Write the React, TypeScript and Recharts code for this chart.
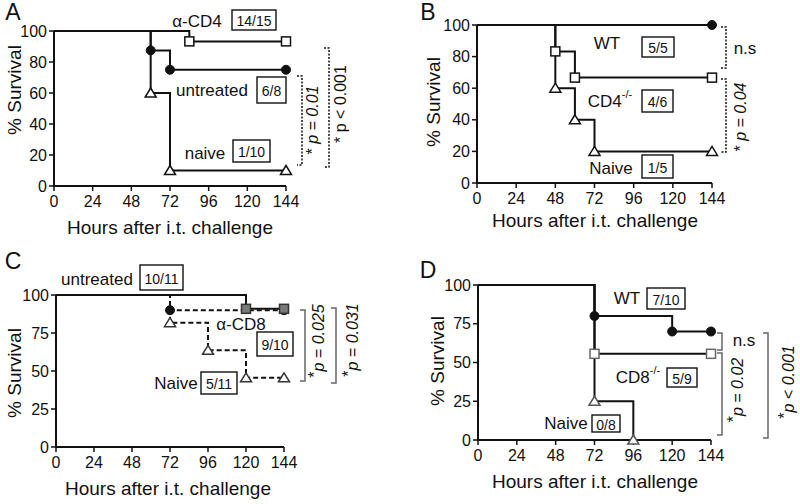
import React from "react";
import { LineChart, Line, XAxis, YAxis } from "recharts";

const FONT = '"Liberation Sans", Arial, Helvetica, sans-serif';
const INK = "#111";

// x ticks (hours) and y ticks (% survival)
const hourTicks = [0, 24, 48, 72, 96, 120, 144];
const survTicks20 = [0, 20, 40, 60, 80, 100];
const survTicks25 = [0, 25, 50, 75, 100];

// Panel A
const aCd4Hours = [0, 84, 144];
const aCd4Surv = [100, 93.3, 93.3];
const aUntreatedHours = [0, 60, 72, 144];
const aUntreatedSurv = [100, 87.5, 75, 75];
const aNaiveHours = [0, 60, 72, 144];
const aNaiveSurv = [100, 60, 10, 10];

// Panel B
const bWtHours = [0, 144];
const bWtSurv = [100, 100];
const bCd4koHours = [0, 48, 60, 144];
const bCd4koSurv = [100, 83.3, 66.7, 66.7];
const bNaiveHours = [0, 48, 60, 72, 144];
const bNaiveSurv = [100, 60, 40, 20, 20];

// Panel C
const cUntreatedHours = [0, 120, 144];
const cUntreatedSurv = [100, 90.9, 90.9];
const cCd8Hours = [0, 72, 144];
const cCd8Surv = [100, 90, 90];
const cNaiveHours = [0, 72, 96, 120, 144];
const cNaiveSurv = [100, 81.8, 63.6, 45.5, 45.5];

// Panel D
const dWtHours = [0, 72, 120, 144];
const dWtSurv = [100, 80, 70, 70];
const dCd8koHours = [0, 72, 144];
const dCd8koSurv = [100, 55.6, 55.6];
const dNaiveHours = [0, 72, 96];
const dNaiveSurv = [100, 25, 0];

const zip = (h: number[], s: number[]) => h.map((t, i) => ({ t, v: s[i] }));

type Shape = "square" | "circle" | "triangle";

const makeDot = (shape: Shape, fill: string, stroke: string) => (props: any) => {
  const { cx, cy, index } = props;
  if (index === 0 || cx == null || cy == null) return <g key={`e${index}`} />;
  if (shape === "circle")
    return <circle key={`c${index}`} cx={cx} cy={cy} r={4.5} fill={fill} stroke={stroke} strokeWidth={1} />;
  if (shape === "square")
    return (
      <rect key={`s${index}`} x={cx - 4.5} y={cy - 4.5} width={9} height={9} fill={fill} stroke={stroke} strokeWidth={1.5} />
    );
  return (
    <path
      key={`t${index}`}
      d={`M${cx},${cy - 5} L${cx + 5.5},${cy + 4} L${cx - 5.5},${cy + 4} Z`}
      fill={fill}
      stroke={stroke}
      strokeWidth={1.5}
    />
  );
};

type Series = {
  name: string;
  data: { t: number; v: number }[];
  shape: Shape;
  fill: string;
  stroke: string;
  dash?: string;
};

type PanelCfg = {
  x: number;
  y: number;
  l: number;
  t: number;
  r: number;
  b: number;
  yTicks: number[];
  series: Series[];
};

const YW = 40;
const XH = 30;
const PW = 400;
const PH = 252;

const panels: PanelCfg[] = [
  {
    x: 0, y: 0, l: 54, t: 31, r: 286, b: 186, yTicks: survTicks20,
    series: [
      { name: "naive", data: zip(aNaiveHours, aNaiveSurv), shape: "triangle", fill: "#fff", stroke: INK },
      { name: "untreated", data: zip(aUntreatedHours, aUntreatedSurv), shape: "circle", fill: INK, stroke: INK },
      { name: "cd4", data: zip(aCd4Hours, aCd4Surv), shape: "square", fill: "#fff", stroke: INK },
    ],
  },
  {
    x: 400, y: 0, l: 77, t: 25, r: 312, b: 183, yTicks: survTicks20,
    series: [
      { name: "naive", data: zip(bNaiveHours, bNaiveSurv), shape: "triangle", fill: "#fff", stroke: INK },
      { name: "cd4ko", data: zip(bCd4koHours, bCd4koSurv), shape: "square", fill: "#fff", stroke: INK },
      { name: "wt", data: zip(bWtHours, bWtSurv), shape: "circle", fill: INK, stroke: INK },
    ],
  },
  {
    x: 0, y: 250, l: 56, t: 45, r: 284, b: 197, yTicks: survTicks25,
    series: [
      { name: "naive", data: zip(cNaiveHours, cNaiveSurv), shape: "triangle", fill: "#fff", stroke: "#333", dash: "5 3" },
      { name: "cd8", data: zip(cCd8Hours, cCd8Surv), shape: "circle", fill: INK, stroke: INK, dash: "5 3" },
      { name: "untreated", data: zip(cUntreatedHours, cUntreatedSurv), shape: "square", fill: "#7a7a7a", stroke: "#333" },
    ],
  },
  {
    x: 400, y: 250, l: 78, t: 35, r: 311, b: 190, yTicks: survTicks25,
    series: [
      { name: "naive", data: zip(dNaiveHours, dNaiveSurv), shape: "triangle", fill: "#fff", stroke: "#555" },
      { name: "cd8ko", data: zip(dCd8koHours, dCd8koSurv), shape: "square", fill: "#fff", stroke: "#666" },
      { name: "wt", data: zip(dWtHours, dWtSurv), shape: "circle", fill: INK, stroke: INK },
    ],
  },
];

const Panel = ({ p }: { p: PanelCfg }) => (
  <div style={{ position: "absolute", left: p.x, top: p.y }}>
    <LineChart
      width={PW}
      height={PH}
      margin={{ top: p.t, right: PW - p.r, left: p.l - YW, bottom: PH - p.b - XH }}
    >
      <XAxis
        type="number"
        dataKey="t"
        domain={[0, 144]}
        ticks={hourTicks}
        height={XH}
        tickSize={5}
        tickMargin={5}
        axisLine={{ stroke: INK, strokeWidth: 2 }}
        tickLine={{ stroke: INK, strokeWidth: 1.5 }}
        tick={{ fill: INK, fontSize: 16, fontFamily: FONT }}
      />
      <YAxis
        type="number"
        dataKey="v"
        domain={[0, 100]}
        ticks={p.yTicks}
        width={YW}
        tickSize={5}
        tickMargin={2}
        axisLine={{ stroke: INK, strokeWidth: 2 }}
        tickLine={{ stroke: INK, strokeWidth: 1.5 }}
        tick={{ fill: INK, fontSize: 16, fontFamily: FONT }}
      />
      {p.series.map((s) => (
        <Line
          key={s.name}
          data={s.data}
          dataKey="v"
          type="stepAfter"
          stroke={INK}
          strokeWidth={2}
          strokeDasharray={s.dash}
          dot={makeDot(s.shape, s.fill, s.stroke)}
          activeDot={false}
          isAnimationActive={false}
        />
      ))}
    </LineChart>
  </div>
);

const Txt = ({ x, y, size = 17, children }: any) => (
  <text x={x} y={y} textAnchor="middle" dominantBaseline="central" fontSize={size} fill={INK}>
    {children}
  </text>
);

const Box = ({ x1, y1, x2, y2, text }: any) => (
  <g>
    <rect x={x1} y={y1} width={x2 - x1} height={y2 - y1} fill="#fff" stroke={INK} strokeWidth={1.4} />
    <text x={(x1 + x2) / 2} y={(y1 + y2) / 2 + 1} textAnchor="middle" dominantBaseline="central" fontSize={14} fill={INK}>
      {text}
    </text>
  </g>
);

const Bracket = ({ x, y1, y2, dotted, color = INK }: any) => (
  <path
    d={`M${x - 5},${y1} H${x} V${y2} H${x - 5}`}
    fill="none"
    stroke={color}
    strokeWidth={1.5}
    strokeDasharray={dotted ? "2 1.5" : undefined}
  />
);

const VText = ({ x, y, size = 16, children }: any) => (
  <text
    transform={`translate(${x},${y}) rotate(-90)`}
    textAnchor="middle"
    dominantBaseline="central"
    fontSize={size}
    fill={INK}
  >
    {children}
  </text>
);

const PText = ({ x, y, rel, val, italic = true, raised = false }: any) => (
  <VText x={x} y={y}>
    <tspan fontStyle="normal" dy={raised ? -4 : 0}>{raised ? "*" : "* "}</tspan>
    <tspan fontStyle={italic ? "italic" : "normal"} dy={raised ? 4 : 0}>{`p ${rel} ${val}`}</tspan>
  </VText>
);

export default function App() {
  return (
    <div
      style={{
        position: "absolute",
        left: 0,
        top: 0,
        width: 800,
        height: 504,
        background: "#fff",
        fontFamily: FONT,
        overflow: "hidden",
      }}
    >
      {panels.map((p, i) => (
        <Panel key={i} p={p} />
      ))}
      <svg
        width={800}
        height={504}
        style={{ position: "absolute", left: 0, top: 0, fontFamily: FONT, pointerEvents: "none" }}
      >
        {/* panel letters */}
        <Txt x={13} y={12} size={23}>A</Txt>
        <Txt x={428} y={12} size={23}>B</Txt>
        <Txt x={13} y={261} size={23}>C</Txt>
        <Txt x={428} y={270} size={23}>D</Txt>

        {/* axis titles */}
        <VText x={14} y={90} size={19}>% Survival</VText>
        <VText x={433} y={102} size={19}>% Survival</VText>
        <VText x={14} y={373} size={19}>% Survival</VText>
        <VText x={437} y={361} size={19}>% Survival</VText>
        <Txt x={170} y={227} size={19}>Hours after i.t. challenge</Txt>
        <Txt x={595} y={220} size={19}>Hours after i.t. challenge</Txt>
        <Txt x={168} y={488} size={19}>Hours after i.t. challenge</Txt>
        <Txt x={595} y={481} size={19}>Hours after i.t. challenge</Txt>

        {/* A */}
        <Txt x={197} y={21}>α-CD4</Txt>
        <Box x1={232} y1={10} x2={276} y2={30} text="14/15" />
        <Txt x={212} y={90}>untreated</Txt>
        <Box x1={257} y1={77} x2={286} y2={103} text="6/8" />
        <Txt x={205} y={153}>naive</Txt>
        <Box x1={233} y1={140} x2={270} y2={162} text="1/10" />
        <Bracket x={302} y1={76} y2={165} dotted />
        <PText x={312} y={120} rel="=" val="0.01" />
        <Bracket x={329} y1={48} y2={167} dotted />
        <PText x={340} y={104} rel="<" val="0.001" italic={false} />

        {/* B */}
        <Txt x={607} y={43}>WT</Txt>
        <Box x1={642} y1={37} x2={674} y2={57} text="5/5" />
        <text x={610} y={101} textAnchor="middle" dominantBaseline="central" fontSize={17} fill={INK}>
          <tspan>CD4</tspan>
          <tspan fontSize={11} dy={-7}>-/-</tspan>
        </text>
        <Box x1={642} y1={90} x2={673} y2={112} text="4/6" />
        <Txt x={611} y={168}>Naive</Txt>
        <Box x1={642} y1={155} x2={673} y2={178} text="1/5" />
        <Bracket x={726} y1={27} y2={68} dotted />
        <Txt x={745} y={48}>n.s</Txt>
        <Bracket x={726} y1={79} y2={152} dotted />
        <PText x={740} y={117} rel="=" val="0.04" />

        {/* C */}
        <Txt x={97} y={279}>untreated</Txt>
        <Box x1={140} y1={265} x2={183} y2={290} text="10/11" />
        <Txt x={241} y={324}>α-CD8</Txt>
        <Box x1={257} y1={332} x2={293} y2={356} text="9/10" />
        <Txt x={176} y={383}>Naive</Txt>
        <Box x1={201} y1={372} x2={237} y2={394} text="5/11" />
        <Bracket x={305} y1={310} y2={381} color="#666" />
        <PText x={318} y={341} rel="=" val="0.025" raised />
        <Bracket x={336} y1={308} y2={383} color="#666" />
        <PText x={352} y={340} rel="=" val="0.031" raised />

        {/* D */}
        <Txt x={627} y={298}>WT</Txt>
        <Box x1={647} y1={288} x2={685} y2={309} text="7/10" />
        <text x={638} y={377} textAnchor="middle" dominantBaseline="central" fontSize={17} fill={INK}>
          <tspan>CD8</tspan>
          <tspan fontSize={11} dy={-7}>-/-</tspan>
        </text>
        <Box x1={667} y1={368} x2={697} y2={387} text="5/9" />
        <Txt x={566} y={423}>Naive</Txt>
        <Box x1={592} y1={415} x2={620} y2={432} text="0/8" />
        <Bracket x={722} y1={333} y2={350} color="#666" />
        <Txt x={744} y={340}>n.s</Txt>
        <Bracket x={722} y1={353} y2={435} color="#666" />
        <PText x={737} y={390} rel="=" val="0.02" raised />
        <Bracket x={768} y1={333} y2={438} color="#666" />
        <PText x={788} y={382} rel="<" val="0.001" raised />
      </svg>
    </div>
  );
}
